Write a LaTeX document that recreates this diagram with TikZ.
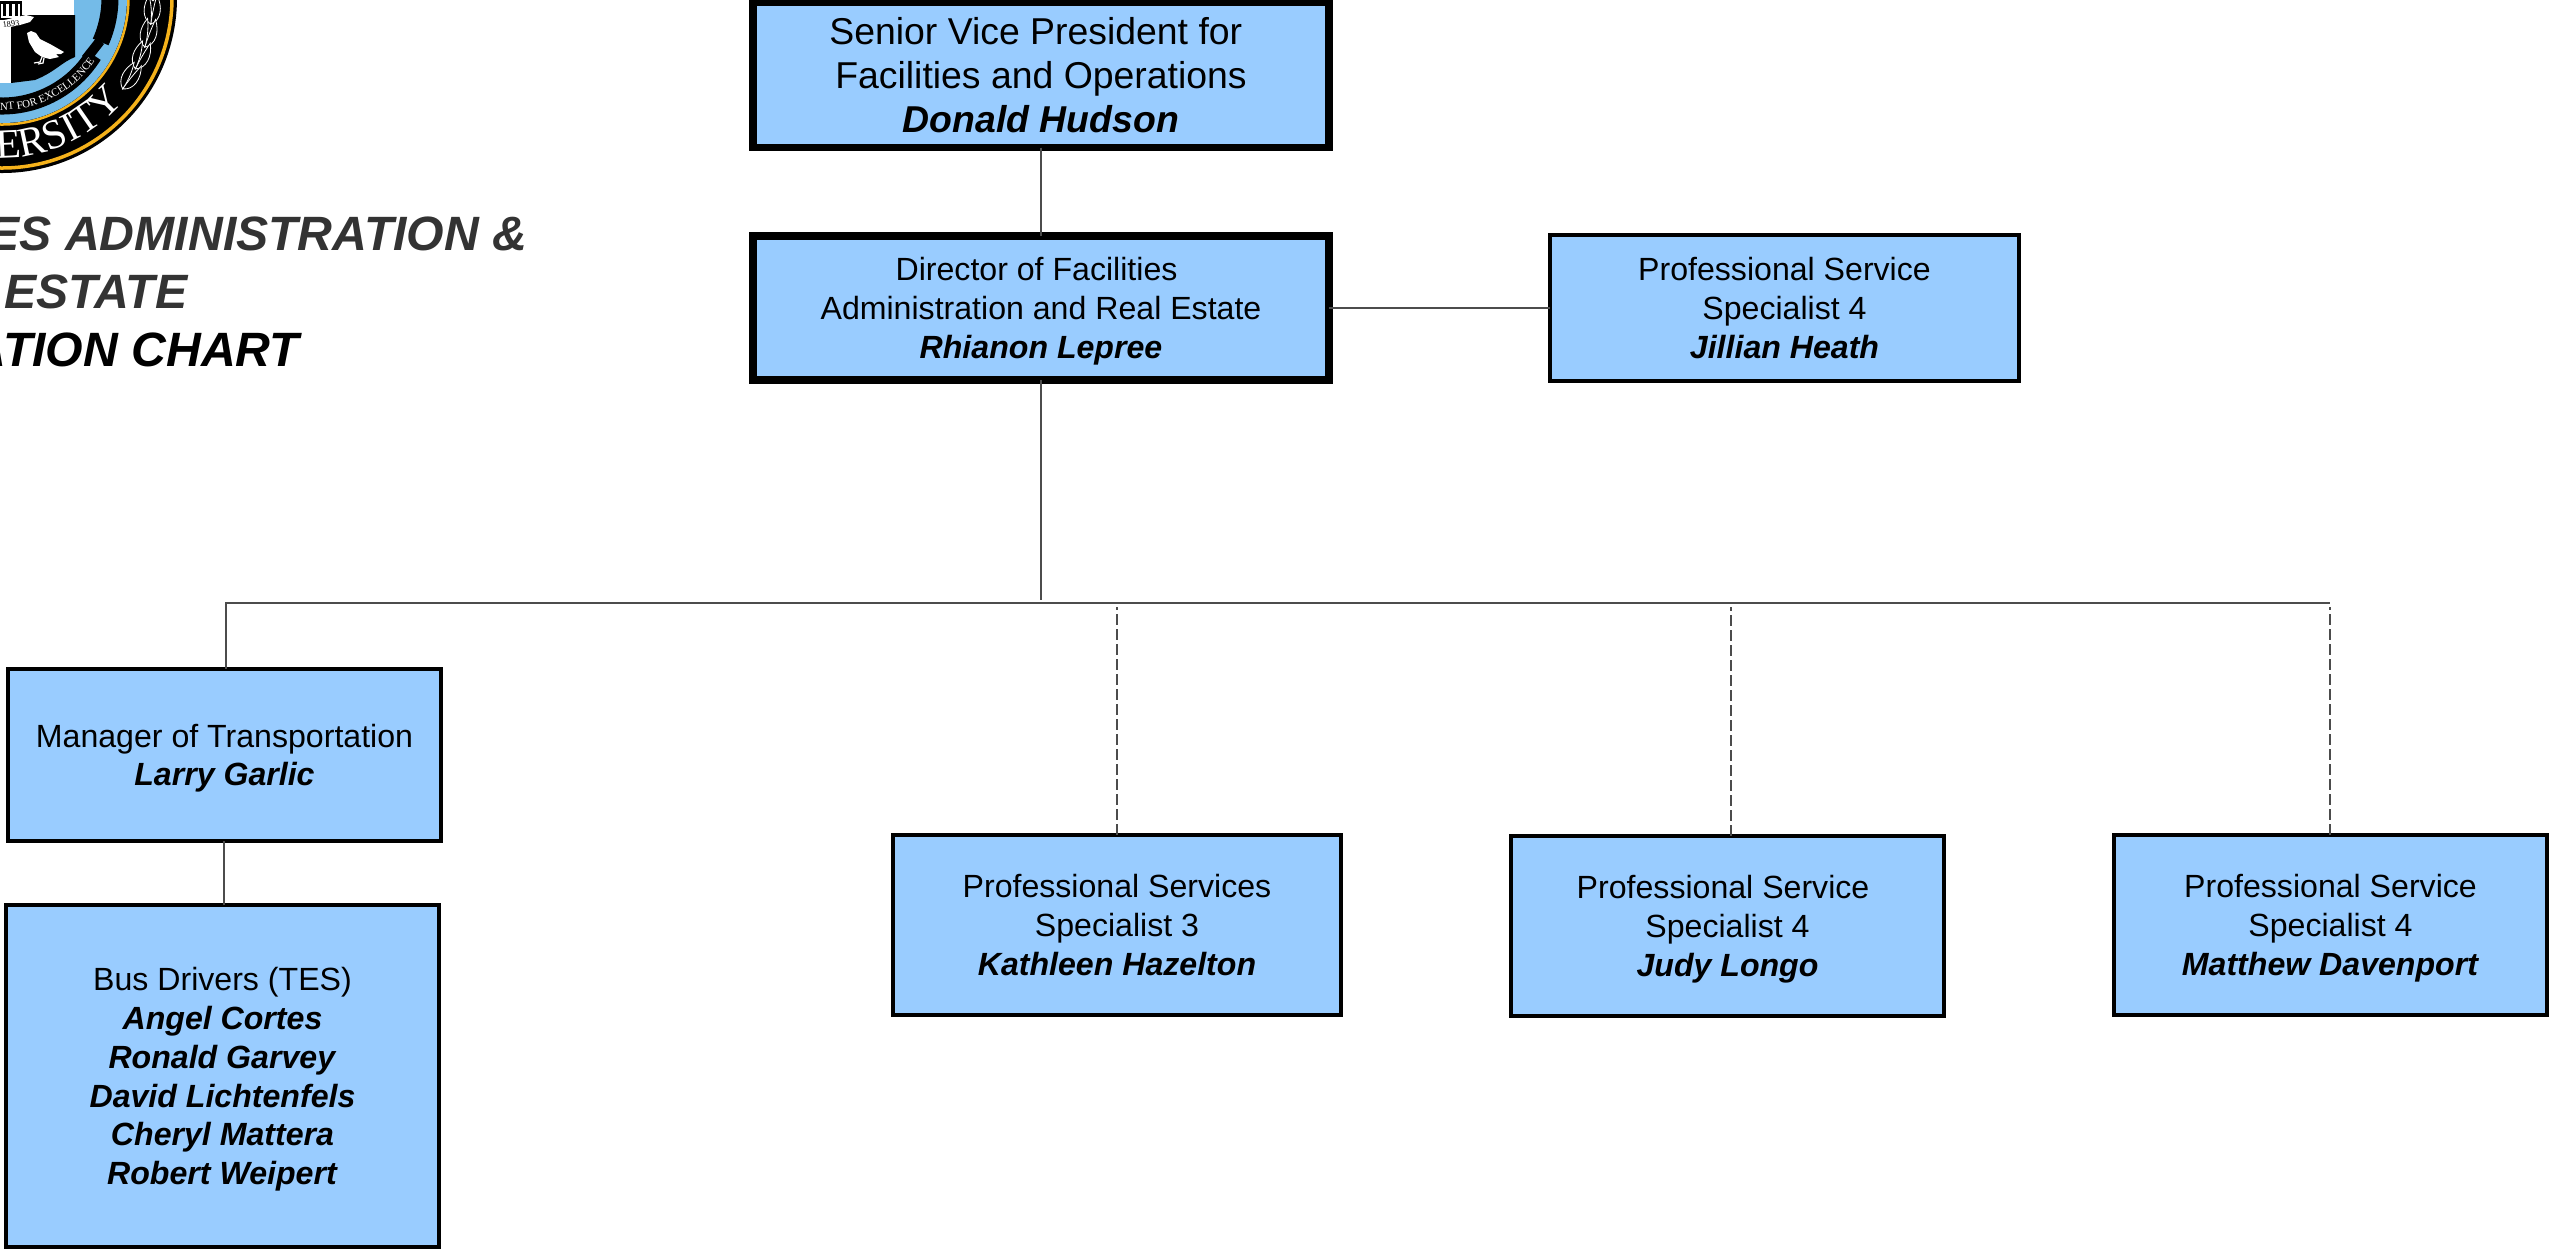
\documentclass[tikz,border=0pt]{standalone}
\usepackage{fontspec}
\setmainfont{Liberation Sans}
\newfontfamily\sealfont{Liberation Serif}
\usetikzlibrary{decorations.text}
\definecolor{boxblue}{HTML}{99CCFF}
\definecolor{sealblue}{HTML}{74BBE8}
\definecolor{sealgold}{HTML}{F5B21B}
\definecolor{titlegrey}{HTML}{333333}
\newcommand{\who}[1]{\raisebox{0pt}[\height][0pt]{\textbf{\textit{#1}}}}
\newcommand{\tailgap}{\hspace*{0.278em}}
\tikzset{
 orgbox/.style={draw=black,fill=boxblue,line width=0.04cm,outer sep=0pt,inner sep=0pt,align=center,font=\fontsize{9.13}{11}\selectfont},
 headbox/.style={orgbox,line width=0.075cm},
 titleline/.style={anchor=base east,inner sep=0pt,font=\fontsize{13.7}{16}\selectfont\bfseries\itshape},
 link/.style={draw=black!70,line width=0.016cm},
 duelink/.style={link,dash pattern=on 0.11cm off 0.04cm},
 seal/.style={white,line width=0.008cm}
}
\begin{document}
\begin{tikzpicture}[x=0.01cm,y=0.01cm]
 \useasboundingbox (0,0) rectangle (2551,-1250);
 % seal in the corner
 \begin{scope}
  \clip (0,0) rectangle (400,-400);
  \coordinate (sealc) at (2,2);
  \fill[black] (sealc) circle (175);
  \draw[sealgold,line width=0.035cm] (sealc) circle (170);
  \draw[sealgold,line width=0.025cm] (sealc) circle (126.5);
  \fill[sealblue] (sealc) circle (125);
  \draw[black,line width=0.17cm] ([shift={(-100:108)}]sealc) arc (-100:-32:108);
  \draw[black,line width=0.17cm] ([shift={(-24:108)}]sealc) arc (-24:10:108);
  \fill[black] (82,-56) -- (97,-37) -- (104,-44) -- (90,-62) -- cycle;
  \fill[white] (0,0) rectangle (74,-15);
  \fill[white] (0,0) rectangle (11,-83);
  \fill[black] (11,-15) -- (75,-15) -- (75,-57) .. controls (62,-62) and (55,-72) .. (35,-80) -- (11,-83) -- cycle;
  % bird
  \fill[white] (27,-33) -- (31,-31) -- (36,-33) -- (40,-39) -- (50,-44) -- (64,-52) -- (61,-54) -- (56,-54) -- (59,-57) -- (50,-59) -- (42,-57) -- (35,-52) -- (29,-42) -- cycle;
  \draw[white,line width=0.012cm] (42,-57) -- (40,-62) -- (34,-63) (44,-58) -- (43,-63) -- (38,-64);
  % crest and ribbon
  \fill[black] (0,-1) rectangle (22,-20);
  \fill[white] (1,-4) rectangle (20,-18);
  \foreach \xbar in {3,9,15} {
   \fill[black] (\xbar,-3) rectangle ++(3,-13);
  }
  \fill[white] (0,-21) -- (26,-15) -- (34,-17) -- (30,-22) -- (20,-25) -- (0,-29) -- cycle;
  \node[inner sep=0pt,rotate=8,font=\sealfont\fontsize{2.4}{3}\selectfont] (ribbon) at (11,-24) {1893};
  % wreath
  \foreach \ang in {-1,-10,...,-38} {
   \draw[seal,fill=black] ([shift={(\ang:151)}]sealc) .. controls ([shift={(\ang+2:161)}]sealc) and ([shift={(\ang+7:161)}]sealc) .. ([shift={(\ang+11:155)}]sealc) .. controls ([shift={(\ang+7:152)}]sealc) and ([shift={(\ang+3:151)}]sealc) .. cycle;
   \draw[seal,fill=black] ([shift={(\ang:151)}]sealc) .. controls ([shift={(\ang+2:141)}]sealc) and ([shift={(\ang+7:141)}]sealc) .. ([shift={(\ang+11:147)}]sealc) .. controls ([shift={(\ang+7:150)}]sealc) and ([shift={(\ang+3:151)}]sealc) .. cycle;
  }
  % lettering on the rings
  \path[decorate,decoration={text along path,text align=left,text={|\sealfont\fontsize{11.8}{12}\selectfont\color{white}|ERSITY}}] ([shift={(-92:160)}]sealc) arc (-92:-35:160);
  \path[decorate,decoration={text along path,text align=left,text={|\sealfont\fontsize{3.1}{4}\selectfont\color{white}|NT FOR EXCELLENCE}}] ([shift={(-91:112)}]sealc) arc (-91:-30:112);
 \end{scope}

 \node[titleline,text=titlegrey] (titleone) at (528,-250) {ES ADMINISTRATION \&};
 \node[titleline,text=titlegrey] (titletwo) at (188,-308.5) {ESTATE};
 \node[titleline,text=black] (titlethree) at (300,-366) {ATION CHART};

 \node[headbox,minimum width=5.76cm,minimum height=1.45cm,font=\fontsize{10.63}{12.6}\selectfont] (svp) at (1041,-75) {Senior Vice President for\tailgap\\Facilities and Operations\\\who{Donald Hudson}};
 \node[headbox,minimum width=5.76cm,minimum height=1.44cm] (dir) at (1041,-308) {Director of Facilities\tailgap\\Administration and Real Estate\\\who{Rhianon Lepree}};
 \node[orgbox,minimum width=4.69cm,minimum height=1.45cm] (psjh) at (1784.5,-308) {Professional Service\\Specialist 4\\\who{Jillian Heath}};
 \node[orgbox,minimum width=4.33cm,minimum height=1.72cm] (mgr) at (224.5,-755) {Manager of Transportation\\\who{Larry Garlic}};
 \node[orgbox,minimum width=4.33cm,minimum height=3.41cm] (bus) at (222.5,-1076) {Bus Drivers (TES)\\\who{Angel Cortes}\\\who{Ronald Garvey}\\\who{David Lichtenfels}\\\who{Cheryl Mattera}\\\who{Robert Weipert}};
 \node[orgbox,minimum width=4.48cm,minimum height=1.8cm] (pskh) at (1117,-925) {Professional Services\\Specialist 3\\\who{Kathleen Hazelton}};
 \node[orgbox,minimum width=4.33cm,minimum height=1.8cm] (psjl) at (1727.5,-926) {Professional Service\tailgap\\Specialist 4\\\who{Judy Longo}};
 \node[orgbox,minimum width=4.33cm,minimum height=1.8cm] (psmd) at (2330.5,-925) {Professional Service\\Specialist 4\\\who{Matthew Davenport}};

 \coordinate (droptip) at (1041,-600);
 \coordinate (busleft) at (226,-603);
 \coordinate (busright) at (2330,-603);
 \coordinate (duejl) at (1731,-607);
 \coordinate (mgrdrop) at (224,-843);
 \draw[link] (svp) -- (dir);
 \draw[link] (dir) -- (psjh);
 \draw[link] (dir) -- (droptip);
 \draw[link] (busleft |- mgr.north) -- (busleft) -- (busright);
 \draw[link] (mgrdrop |- mgr.south) -- (mgrdrop |- bus.north);
 \draw[duelink] (pskh.north) -- (pskh.north |- duejl);
 \draw[duelink] (duejl |- psjl.north) -- (duejl);
 \draw[duelink] (busright |- psmd.north) -- (busright |- duejl);
\end{tikzpicture}
\end{document}
